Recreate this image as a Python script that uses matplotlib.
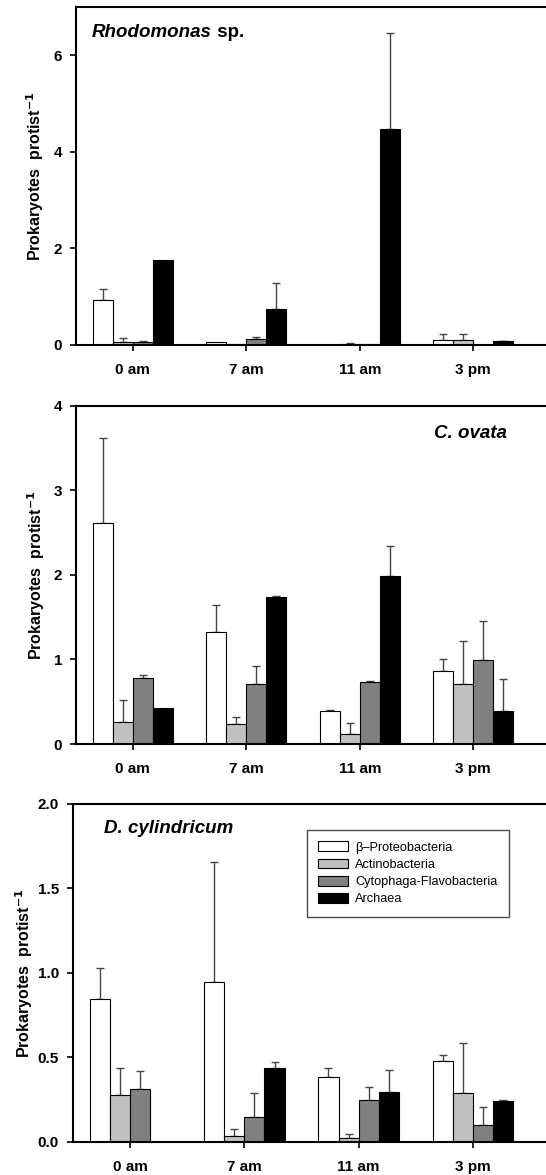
import numpy as np
import matplotlib
matplotlib.use("Agg")
import matplotlib.pyplot as plt

plt.rcParams['font.family'] = ['Liberation Sans', 'DejaVu Sans']

times = ['0 am', '7 am', '11 am', '3 pm']
groups = ['\u03b2\u2013Proteobacteria', 'Actinobacteria', 'Cytophaga-Flavobacteria', 'Archaea']
colors = ['white', '#c0c0c0', '#808080', 'black']

# Rhodomonas sp.
rho_vals = [[0.93, 0.055, 0.0, 0.11],
            [0.07, 0.03, 0.03, 0.11],
            [0.055, 0.12, 0.015, 0.0],
            [1.75, 0.75, 4.47, 0.08]]
rho_errs = [[0.22, 0.0, 0.0, 0.12],
            [0.08, 0.0, 0.01, 0.12],
            [0.035, 0.04, 0.0, 0.0],
            [0.0, 0.54, 2.0, 0.01]]

# C. ovata
cov_vals = [[2.62, 1.32, 0.39, 0.86],
            [0.26, 0.24, 0.12, 0.71],
            [0.78, 0.71, 0.73, 0.99],
            [0.43, 1.74, 1.99, 0.39]]
cov_errs = [[1.0, 0.33, 0.01, 0.15],
            [0.26, 0.08, 0.13, 0.51],
            [0.04, 0.21, 0.01, 0.46],
            [0.0, 0.01, 0.35, 0.38]]

# D. cylindricum
dcy_vals = [[0.846, 0.947, 0.383, 0.477],
            [0.278, 0.037, 0.024, 0.292],
            [0.312, 0.146, 0.249, 0.103],
            [0.0, 0.436, 0.294, 0.243]]
dcy_errs = [[0.184, 0.708, 0.055, 0.038],
            [0.16, 0.038, 0.021, 0.292],
            [0.108, 0.146, 0.076, 0.102],
            [0.0, 0.037, 0.13, 0.007]]

fig = plt.figure(figsize=(5.46, 11.75), dpi=100)
ax1 = fig.add_axes([0.139, 0.7064, 0.861, 0.2877])
ax2 = fig.add_axes([0.139, 0.3668, 0.861, 0.2877])
ax3 = fig.add_axes([0.1337, 0.0281, 0.8663, 0.2877])

w = 0.176
x = np.arange(len(times))

def panel(ax, vals, errs, ymax, yticks, ylabels, labx):
    for i in range(4):
        pos = x + (i - 1.5) * w
        v = np.array(vals[i])
        e = np.array(errs[i])
        ax.bar(pos, v, width=w, color=colors[i], edgecolor='black', linewidth=0.8,
               label=groups[i], zorder=2)
        has = e > 0
        ax.errorbar(pos[has], v[has], yerr=[np.zeros(has.sum()), e[has]], fmt='none',
                    ecolor='#444444', elinewidth=1.0, capsize=3, capthick=1.0, zorder=1)
    ax.set_xlim(-0.5, 3.64)
    ax.set_ylim(0, ymax)
    ax.set_xticks(x)
    ax.set_xticklabels(times, fontsize=11, fontweight='bold')
    ax.set_yticks(yticks)
    ax.set_yticklabels(ylabels, fontsize=11, fontweight='bold')
    ax.tick_params(axis='both', direction='out', length=4, width=1.2, pad=6)
    ax.tick_params(axis='x', pad=9)
    for s in ['left', 'bottom', 'top']:
        ax.spines[s].set_linewidth(1.5)
    ax.spines['right'].set_visible(False)
    ax.set_ylabel('Prokaryotes  protist$^{\\mathbf{-1}}$', fontsize=11.5, fontweight='bold')
    ax.yaxis.set_label_coords(labx, 0.5)

panel(ax1, rho_vals, rho_errs, 7, [0, 2, 4, 6], ['0', '2', '4', '6'], -0.063)
panel(ax2, cov_vals, cov_errs, 4, [0, 1, 2, 3, 4], ['0', '1', '2', '3', '4'], -0.061)
panel(ax3, dcy_vals, dcy_errs, 2.0, [0, 0.5, 1.0, 1.5, 2.0],
      ['0.0', '0.5', '1.0', '1.5', '2.0'], -0.08)

t1 = ax1.text(0.034, 0.923, 'Rhodomonas', transform=ax1.transAxes, fontsize=13.5,
              fontweight='bold', style='italic', va='center')
ax1.annotate(' sp.', xy=(1, 0.5), xycoords=t1, fontsize=13.5, fontweight='bold',
             va='center', ha='left')
ax2.text(0.917, 0.92, 'C. ovata', transform=ax2.transAxes, fontsize=13.5,
         fontweight='bold', style='italic', va='center', ha='right')
ax3.text(0.066, 0.926, 'D. cylindricum', transform=ax3.transAxes, fontsize=13.5,
         fontweight='bold', style='italic', va='center')

leg = ax3.legend(loc='upper right', bbox_to_anchor=(0.922, 0.923), fontsize=9.2,
                 frameon=True, fancybox=False, edgecolor='#222222', handlelength=2.3,
                 handleheight=0.8, labelspacing=0.38, borderpad=0.9, handletextpad=0.6,
                 borderaxespad=0)
leg.get_frame().set_linewidth(1.0)

fig.savefig('out.png', dpi=100)
